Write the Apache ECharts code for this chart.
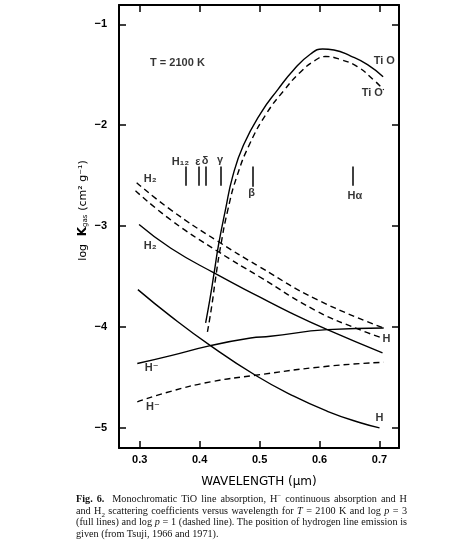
<!DOCTYPE html>
<html>
<head>
<meta charset="utf-8">
<script src="https://cdn.jsdelivr.net/npm/echarts@6/dist/echarts.min.js"></script>
<style>
  html, body { margin: 0; padding: 0; background: #fff; }
  #chart { position: absolute; left: 0; top: 0; width: 473px; height: 547px; }
  .cap { position: absolute; left: 76px; top: 493px; width: 331px;
         font-family: "Liberation Serif", "DejaVu Serif", serif; font-size: 10.2px; line-height: 11.5px; color: #111; }
  .cap div { text-align: justify; text-align-last: justify; white-space: nowrap; height: 11.5px; }
  .cap div.last { text-align-last: left; }
  .cap sup, .cap sub { font-size: 7px; line-height: 0; }
</style>
</head>
<body>
<div id="chart"></div>
<div class="cap">
  <div><b>Fig. 6.</b>&nbsp; Monochromatic TiO line absorption, H<sup>−</sup> continuous absorption and H</div>
  <div>and H<sub>2</sub> scattering coefficients versus wavelength for <i>T</i> = 2100 K and log <i>p</i> = 3</div>
  <div>(full lines) and log <i>p</i> = 1 (dashed line). The position of hydrogen line emission is</div>
  <div class="last">given (from Tsuji, 1966 and 1971).</div>
</div>
<script>
// wavelength (µm), log K
var tioP3 = [[0.410,-3.96],[0.417,-3.73],[0.424,-3.47],[0.432,-3.17],[0.443,-2.84],[0.455,-2.51],[0.473,-2.20],
  [0.502,-1.88],[0.530,-1.65],[0.557,-1.45],[0.585,-1.295],[0.605,-1.245],[0.624,-1.255],[0.652,-1.315],[0.680,-1.40],[0.706,-1.52]];
var tioP1 = [[0.413,-4.05],[0.420,-3.80],[0.427,-3.50],[0.435,-3.20],[0.447,-2.84],[0.462,-2.51],[0.484,-2.18],
  [0.512,-1.88],[0.540,-1.66],[0.567,-1.48],[0.592,-1.36],[0.610,-1.32],[0.635,-1.35],[0.663,-1.42],[0.690,-1.55],[0.707,-1.65]];
var h2P1 = [[0.295,-2.57],[0.352,-2.84],[0.430,-3.15],[0.499,-3.40],[0.596,-3.73],[0.707,-4.01]];
var hP1 = [[0.293,-2.65],[0.352,-2.94],[0.430,-3.25],[0.499,-3.50],[0.596,-3.845],[0.668,-4.03],[0.705,-4.11]];
var h2P3 = [[0.299,-2.985],[0.352,-3.22],[0.424,-3.465],[0.499,-3.70],[0.552,-3.86],[0.613,-4.027],[0.705,-4.257]];
var hP3 = [[0.297,-3.63],[0.352,-3.895],[0.418,-4.185],[0.493,-4.479],[0.557,-4.687],[0.613,-4.836],[0.668,-4.95],[0.700,-5.00]];
var hminP3 = [[0.296,-4.363],[0.352,-4.284],[0.418,-4.185],[0.485,-4.11],[0.518,-4.093],[0.613,-4.027],[0.707,-4.01]];
var hminP1 = [[0.296,-4.743],[0.352,-4.638],[0.418,-4.545],[0.493,-4.479],[0.613,-4.39],[0.707,-4.35]];

// hydrogen emission line positions
var hLineX = [0.377, 0.398, 0.410, 0.435, 0.488, 0.655];
var hLineTop = [-2.41, -2.41, -2.41, -2.41, -2.41, -2.41];
var hLineBottom = [-2.60, -2.60, -2.60, -2.60, -2.61, -2.60];

var xTicks = [0.3, 0.4, 0.5, 0.6, 0.7];
var yTicks = [-5, -4, -3, -2, -1];

// text labels [x, y, text]
var curveLabels = [
  [0.363, -1.386, 'T = 2100 K'],
  [0.708, -1.363, 'Ti O'],
  [0.688, -1.683, 'Ti O'],
  [0.3175, -2.535, 'H₂'],
  [0.3175, -3.195, 'H₂'],
  [0.7115, -4.116, 'H'],
  [0.320, -4.406, 'H⁻'],
  [0.322, -4.796, 'H⁻'],
  [0.700, -4.90, 'H'],
  [0.368, -2.36, 'H₁₂'],
  [0.397, -2.36, 'ε'],
  [0.409, -2.355, 'δ'],
  [0.434, -2.35, 'γ'],
  [0.4867, -2.673, 'β'],
  [0.659, -2.70, 'Hα']
];

var chart = echarts.init(document.getElementById('chart'));
var FONT = 'DejaVu Sans';
var LFONT = '"Liberation Sans", "DejaVu Sans"';

function curve(data, dashed) {
  return {
    type: 'line', data: data, symbol: 'none', smooth: 0.5,
    lineStyle: { color: '#000', width: 1.4, type: dashed ? [6, 4] : 'solid' },
    silent: true
  };
}

function xAx(pos, labels) {
  return {
    type: 'value', position: pos, min: 0.2655, max: 0.7325,
    axisLine: { show: true, onZero: false, lineStyle: { color: '#000', width: 2 } },
    axisTick: { show: true, inside: true, length: 7, customValues: xTicks, lineStyle: { color: '#000', width: 1.5 } },
    axisLabel: { show: labels, customValues: xTicks, margin: 6, color: '#000', fontFamily: LFONT, fontSize: 11, fontWeight: 'bold',
      formatter: function (v) { return v.toFixed(1); } },
    splitLine: { show: false }
  };
}

function yAx(pos, labels) {
  return {
    type: 'value', position: pos, min: -5.2, max: -0.809,
    axisLine: { show: true, onZero: false, lineStyle: { color: '#000', width: 2 } },
    axisTick: { show: true, inside: true, length: 7, customValues: yTicks, lineStyle: { color: '#000', width: 1.5 } },
    axisLabel: { show: labels, customValues: yTicks, margin: 12, color: '#000', fontFamily: LFONT, fontSize: 11, fontWeight: 'bold',
      formatter: function (v) { return '−' + Math.abs(v); } },
    splitLine: { show: false }
  };
}

var xBottom = xAx('bottom', true);
xBottom.name = 'WAVELENGTH (μm)';
xBottom.nameLocation = 'middle';
xBottom.nameGap = 28;
xBottom.nameMoveOverlap = false;
xBottom.nameTextStyle = { color: '#000', fontFamily: FONT, fontSize: 12 };

var yLeft = yAx('left', true);
yLeft.name = '{l|log}  {k|K}{s|gas} {l|(cm² g⁻¹)}';
yLeft.nameLocation = 'middle';
yLeft.nameGap = 30;
yLeft.nameRotate = 90;
yLeft.nameMoveOverlap = false;
yLeft.nameTextStyle = {
  color: '#000', fontFamily: FONT, padding: [0, 0, 0, 32],
  rich: {
    l: { fontFamily: FONT, fontSize: 11, color: '#000' },
    k: { fontFamily: FONT, fontSize: 12, fontWeight: 'bold', color: '#000' },
    s: { fontFamily: FONT, fontSize: 7, color: '#000', verticalAlign: 'bottom', padding: [4, 0, 0, 0] }
  }
};

var hLineData = hLineX.map(function (x, i) {
  return [{ coord: [x, hLineTop[i]] }, { coord: [x, hLineBottom[i]] }];
});

chart.setOption({
  animation: false,
  grid: { left: 119, right: 74, top: 5, bottom: 99 },
  xAxis: [xBottom, xAx('top', false)],
  yAxis: [yLeft, yAx('right', false)],
  series: [
    curve(tioP3, false), curve(tioP1, true),
    curve(h2P1, true), curve(hP1, true),
    curve(h2P3, false), curve(hP3, false),
    curve(hminP3, false), curve(hminP1, true),
    {
      type: 'scatter', symbolSize: 0, silent: true,
      data: curveLabels.map(function (d) { return { value: [d[0], d[1]], name: d[2] }; }),
      label: { show: true, position: 'inside', formatter: '{b}', color: '#000', fontFamily: LFONT, fontSize: 11, fontWeight: 'bold' },
      markLine: { symbol: 'none', silent: true, label: { show: false },
        lineStyle: { color: '#000', width: 1.5, type: 'solid' }, data: hLineData }
    }
  ]
});
</script>
</body>
</html>
